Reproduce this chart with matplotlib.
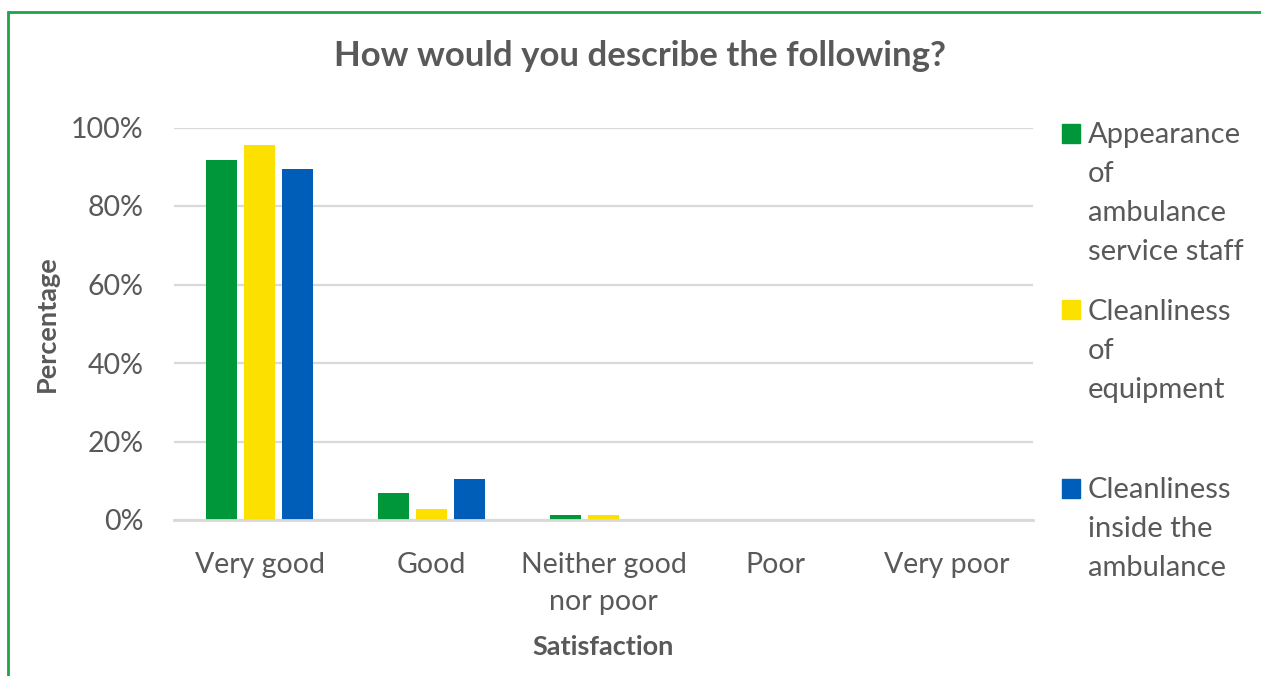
import matplotlib
matplotlib.use("Agg")
import matplotlib.pyplot as plt
from matplotlib.patches import Rectangle
import numpy as np

plt.rcParams['font.family'] = ['Lato', 'DejaVu Sans']

categories = ["Very good", "Good", "Neither good\nnor poor", "Poor", "Very poor"]
series_names = ["Appearance\nof\nambulance\nservice staff",
                "Cleanliness\nof\nequipment",
                "Cleanliness\ninside the\nambulance"]
appearance = [0.917, 0.069, 0.013, 0.0, 0.0]
equipment = [0.955, 0.028, 0.013, 0.0, 0.0]
inside = [0.894, 0.104, 0.0, 0.0, 0.0]
series_values = [appearance, equipment, inside]
colors = ["#00963A", "#FCE100", "#005EB8"]
yticks = [0, 0.2, 0.4, 0.6, 0.8, 1.0]
ytick_labels = ["0%", "20%", "40%", "60%", "80%", "100%"]

W, H = 1261, 676
fig = plt.figure(figsize=(W / 100, H / 100), dpi=100)
ax_l, ax_r, ax_t, ax_b = 174, 1033, 127.5, 520
ax = fig.add_axes([ax_l / W, 1 - ax_b / H, (ax_r - ax_l) / W, (ax_b - ax_t) / H])

text_col = "#595959"
x = np.arange(len(categories))
offsets = [-0.221, 0.0, 0.221]
for vals, off, c in zip(series_values, offsets, colors):
    ax.bar(x + off, vals, width=0.18, color=c, zorder=3)

ax.set_xlim(-0.5, len(categories) - 0.5)
ax.set_ylim(0, 1.0)
ax.set_yticks(yticks)
ax.set_yticklabels(ytick_labels)
ax.set_xticks(x)
ax.set_xticklabels(categories, linespacing=1.54)
ax.tick_params(axis='both', length=0, labelsize=20.5, colors=text_col)
ax.tick_params(axis='y', pad=22)
ax.tick_params(axis='x', pad=23)
ax.grid(axis='y', color="#D9D9D9", linewidth=1.6, zorder=0)
for s in ["top", "right", "left"]:
    ax.spines[s].set_visible(False)
ax.spines["bottom"].set_color("#D9D9D9")
ax.spines["bottom"].set_linewidth(2)
ax.spines["bottom"].set_zorder(4)

ax.set_xlabel("Satisfaction", fontsize=19.5, fontweight='bold', color=text_col)
ax.xaxis.label.set_va('center')
ax.xaxis.set_label_coords(0.5, -(647 - ax_b) / (ax_b - ax_t))
ax.set_ylabel("Percentage", fontsize=19.5, fontweight='bold', color=text_col)
ax.yaxis.label.set_va('center')
ax.yaxis.set_label_coords((47 - ax_l) / (ax_r - ax_l), 0.5)

fig.text(640 / W, 1 - 56 / H, "How would you describe the following?",
         ha='center', va='center', fontsize=25, fontweight='bold', color=text_col)

# legend, one block per series
entry_tops = [133, 310, 488]
for name, c, ty in zip(series_names, colors, entry_tops):
    fig.patches.append(Rectangle((1062 / W, 1 - (ty + 9.5) / H), 18 / W, 19 / H,
                                 transform=fig.transFigure, color=c))
    fig.text(1088 / W, 1 - (ty - 11) / H, name, ha='left', va='top',
             fontsize=21, color=text_col, linespacing=1.615)

# outer frame
fig.patches.append(Rectangle((7.5 / W, -0.05), 1.1, 1 - 12 / H + 0.05,
                             transform=fig.transFigure, fill=False,
                             edgecolor="#1EA34A", linewidth=2))

fig.savefig("out.png", dpi=100)
